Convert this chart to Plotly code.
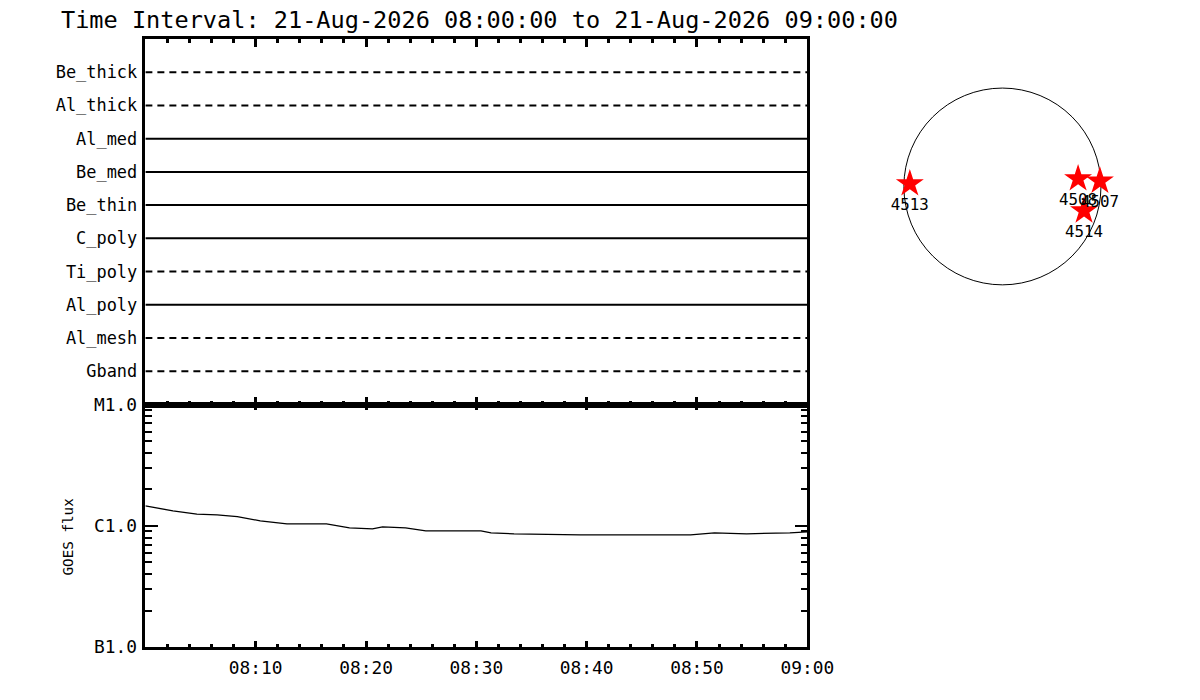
import plotly.graph_objects as go

# ---------------- data ----------------
filters = ["Be_thick", "Al_thick", "Al_med", "Be_med", "Be_thin",
           "C_poly", "Ti_poly", "Al_poly", "Al_mesh", "Gband"]
filter_dashed = [True, True, False, False, False, False, True, False, True, True]

goes_times = ["2026-08-21 08:00:00", "2026-08-21 08:02:30", "2026-08-21 08:04:40",
              "2026-08-21 08:06:30", "2026-08-21 08:08:20", "2026-08-21 08:10:25",
              "2026-08-21 08:12:50", "2026-08-21 08:16:25", "2026-08-21 08:18:30",
              "2026-08-21 08:20:35", "2026-08-21 08:21:30", "2026-08-21 08:23:35",
              "2026-08-21 08:25:25", "2026-08-21 08:30:25", "2026-08-21 08:31:20",
              "2026-08-21 08:33:25", "2026-08-21 08:39:25", "2026-08-21 08:49:25",
              "2026-08-21 08:51:35", "2026-08-21 08:54:30", "2026-08-21 08:58:25",
              "2026-08-21 09:00:00"]
goes_flux = [1.46e-6, 1.33e-6, 1.25e-6, 1.23e-6, 1.19e-6, 1.10e-6,
             1.04e-6, 1.04e-6, 0.963e-6, 0.945e-6, 0.98e-6, 0.963e-6,
             0.91e-6, 0.91e-6, 0.876e-6, 0.86e-6, 0.844e-6, 0.844e-6,
             0.876e-6, 0.86e-6, 0.876e-6, 0.893e-6]

goes_tickvals = [1e-7, 1e-6, 1e-5]
goes_ticktext = ["B1.0", "C1.0", "M1.0"]
goes_minor_vals = [k * 10.0 ** e for e in (-7, -6) for k in range(2, 10)]

time_tickvals = ["2026-08-21 08:10", "2026-08-21 08:20", "2026-08-21 08:30",
                 "2026-08-21 08:40", "2026-08-21 08:50", "2026-08-21 09:00"]
time_ticktext = ["08:10", "08:20", "08:30", "08:40", "08:50", "09:00"]
t_start = "2026-08-21 08:00:00"
t_end = "2026-08-21 09:00:00"

ar_names = ["4513", "4508", "4507", "4514"]
ar_x = [-902, 737, 950, 795]     # arcsec
ar_y = [27, 76, 53, -238]        # arcsec
solar_radius = 960

title_text = "Time Interval: 21-Aug-2026 08:00:00 to 21-Aug-2026 09:00:00"

# ---------------- figure ----------------
W, H = 1200, 700
# the page shows the figure slightly scaled/offset; compensate
SX, OX = 0.982, 7.0
SY, OY = 0.976, 15.0
def px(x): return ((x - OX) / SX) / W
def py(y): return 1 - ((y - OY) / SY) / H
FS = 1 / 0.98  # font compensation

FONT = "DejaVu Sans Mono"
fig = go.Figure()

n = len(filters)
for i, (name, dashed) in enumerate(zip(filters, filter_dashed)):
    fig.add_trace(go.Scatter(
        x=[t_start, t_end], y=[n - i, n - i], mode="lines",
        line=dict(color="black", width=2, dash="7px,5px" if dashed else "solid"),
        xaxis="x", yaxis="y", showlegend=False, hoverinfo="skip"))

fig.add_trace(go.Scatter(
    x=goes_times, y=goes_flux, mode="lines",
    line=dict(color="black", width=1.3),
    xaxis="x2", yaxis="y2", showlegend=False))

fig.add_trace(go.Scatter(
    x=ar_x, y=ar_y, mode="markers+text", text=ar_names,
    textposition="bottom center",
    textfont=dict(family=FONT, size=15.5 * FS, color="black"),
    marker=dict(symbol="star", size=21, color="red", line=dict(width=0)),
    xaxis="x3", yaxis="y3", showlegend=False))

x_dom = [px(145), px(810)]
axis_common = dict(showgrid=False, zeroline=False, showline=True,
                   linecolor="black", linewidth=2.5)

fig.update_layout(
    width=W, height=H, margin=dict(l=0, r=0, t=0, b=0),
    paper_bgcolor="white", plot_bgcolor="white",
    font=dict(family=FONT, color="black", size=16),
    xaxis=dict(domain=x_dom, anchor="y", type="date", range=[t_start, t_end],
               showticklabels=False, ticks="inside", ticklen=8, tickwidth=2.5,
               tickcolor="black", tickvals=time_tickvals, mirror="ticks",
               minor=dict(ticks="inside", ticklen=4, tickwidth=2.5, dtick=120000,
                          tickcolor="black"),
               **axis_common),
    yaxis=dict(domain=[py(403), py(35)], anchor="x", range=[0, n + 1],
               tickvals=list(range(n, 0, -1)), ticktext=filters, ticks="",
               ticklabelstandoff=2,
               tickfont=dict(family=FONT, size=16.6 * FS), mirror=True,
               **axis_common),
    xaxis2=dict(domain=x_dom, anchor="y2", type="date", range=[t_start, t_end],
                tickvals=time_tickvals, ticktext=time_ticktext,
                ticks="inside", ticklen=6, tickwidth=2.5, tickcolor="black",
                mirror="ticks", ticklabelstandoff=3,
                tickfont=dict(family=FONT, size=17.5 * FS),
                minor=dict(ticks="inside", ticklen=3, tickwidth=2.5, dtick=120000,
                           tickcolor="black"),
                **axis_common),
    yaxis2=dict(domain=[py(647), py(403)], anchor="x2", type="log",
                range=[-7, -5], tickvals=goes_tickvals, ticktext=goes_ticktext,
                ticks="inside", ticklen=13, tickwidth=1.5, tickcolor="black",
                mirror="ticks", ticklabelstandoff=2,
                tickfont=dict(family=FONT, size=17.5 * FS),
                minor=dict(ticks="inside", ticklen=7, tickwidth=1.5,
                           tickmode="array", tickvals=goes_minor_vals,
                           tickcolor="black", showgrid=False),
                **axis_common),
    xaxis3=dict(domain=[px(884), px(1128)], anchor="y3",
                range=[-1183, 1183], visible=False),
    yaxis3=dict(domain=[py(305.5), py(61.5)], anchor="x3",
                range=[-1183, 1183], visible=False),
    shapes=[dict(type="circle", xref="x3", yref="y3",
                 x0=-solar_radius, x1=solar_radius,
                 y0=-solar_radius, y1=solar_radius,
                 line=dict(color="black", width=1), layer="below")],
    annotations=[
        dict(text=title_text, xref="paper", yref="paper",
             x=px(58), y=py(16), xanchor="left", yanchor="middle",
             showarrow=False, font=dict(family=FONT, size=23.1 * FS, color="black")),
        dict(text="GOES flux", xref="paper", yref="paper",
             x=px(67), y=py(536), xanchor="center", yanchor="middle",
             textangle=-90, showarrow=False,
             font=dict(family=FONT, size=14 * FS, color="black")),
    ],
)

fig.write_html("out.html")
